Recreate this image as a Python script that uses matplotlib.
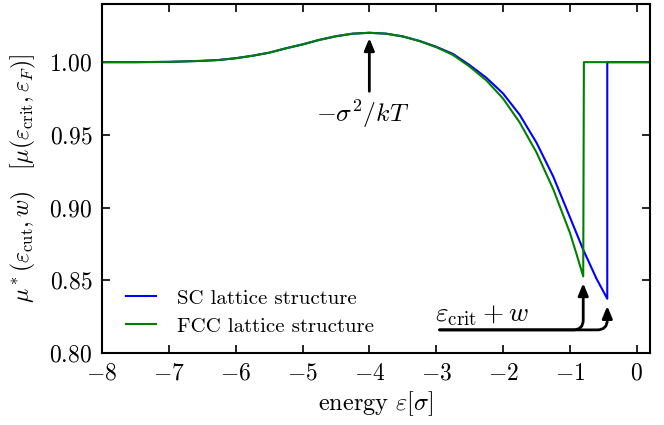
import matplotlib
matplotlib.use("Agg")
import matplotlib.pyplot as plt

plt.rcParams['font.family'] = 'serif'
plt.rcParams['font.serif'] = ['cmr10', 'DejaVu Serif']
plt.rcParams['mathtext.fontset'] = 'cm'
plt.rcParams['axes.unicode_minus'] = False
plt.rcParams['axes.formatter.use_mathtext'] = True

# ---- data ----
sc_x = [-8.0, -7.5, -7.0, -6.5, -6.25, -6.0, -5.75, -5.5, -5.25, -5.0, -4.75, -4.5,
        -4.25, -4.0, -3.75, -3.5, -3.25, -3.0, -2.75, -2.5, -2.25, -2.0, -1.75,
        -1.5, -1.25, -1.0, -0.8, -0.6, -0.44, -0.44, 0.2]
sc_y = [1.0, 1.0, 1.0002, 1.0009, 1.0015, 1.0027, 1.0044, 1.0065, 1.0095, 1.0122,
        1.0153, 1.0178, 1.0196, 1.0202, 1.0196, 1.0177, 1.0146, 1.0106, 1.0057,
        0.9980, 0.9893, 0.9785, 0.9638, 0.9447, 0.9215, 0.8935, 0.8710, 0.8510,
        0.8373, 1.0, 1.0]

fcc_x = [-8.0, -7.5, -7.0, -6.5, -6.25, -6.0, -5.75, -5.5, -5.25, -5.0, -4.75, -4.5,
         -4.25, -4.0, -3.75, -3.5, -3.25, -3.0, -2.75, -2.5, -2.25, -2.0, -1.75,
         -1.5, -1.25, -1.0, -0.9, -0.8, -0.79, 0.2]
fcc_y = [1.0, 1.0, 1.0002, 1.0009, 1.0015, 1.0027, 1.0044, 1.0065, 1.0095, 1.0122,
         1.0153, 1.0178, 1.0196, 1.0202, 1.0196, 1.0177, 1.0145, 1.0103, 1.0050,
         0.9970, 0.9875, 0.9750, 0.9585, 0.9380, 0.9128, 0.8828, 0.8680, 0.8527,
         1.0, 1.0]

series_labels = ['SC lattice structure', 'FCC lattice structure']
series_colors = ['#0000ff', '#008000']

x_ticks = [-8, -7, -6, -5, -4, -3, -2, -1, 0]
x_ticklabels = ['$-8$', '$-7$', '$-6$', '$-5$', '$-4$', '$-3$', '$-2$', '$-1$', '$0$']
y_ticks = [0.80, 0.85, 0.90, 0.95, 1.00]
y_ticklabels = ['$0.80$', '$0.85$', '$0.90$', '$0.95$', '$1.00$']

peak_tip = (-4.0, 1.0165)
peak_tail = (-4.0, 0.980)
peak_text_pos = (-4.1, 0.9645)
crit_start = (-2.95, 0.8159)
crit_tips = [(-0.44, 0.8323), (-0.80, 0.848)]
crit_text_pos = (-3.02, 0.8215)

# ---- figure ----
fig = plt.figure(figsize=(6.64, 4.25), dpi=100)
ax = fig.add_axes([0.1536, 0.1694, 0.979 - 0.1536, 0.9906 - 0.1694])

ax.plot(sc_x, sc_y, color=series_colors[0], lw=1.5, label=series_labels[0])
ax.plot(fcc_x, fcc_y, color=series_colors[1], lw=1.5, label=series_labels[1])

ax.set_xlim(-8, 0.2)
ax.set_ylim(0.80, 1.04)
ax.set_xticks(x_ticks)
ax.set_xticklabels(x_ticklabels)
ax.set_yticks(y_ticks)
ax.set_yticklabels(y_ticklabels)

for s in ax.spines.values():
    s.set_linewidth(1.5)
ax.tick_params(direction='in', length=6, width=1.2, top=True, right=True,
               labelsize=17)
ax.tick_params(axis='x', pad=7)
ax.tick_params(axis='y', pad=7)

ax.set_xlabel(r'energy $\varepsilon[\sigma]$', fontsize=17.5, labelpad=3)
ax.set_ylabel(r'$\mu^*(\varepsilon_{\rm cut},w) \quad [\mu(\varepsilon_{\rm crit},\varepsilon_F)]$',
              fontsize=17, labelpad=8)

arrow_kw = dict(arrowstyle='-|>,head_length=0.6,head_width=0.25', color='k',
                lw=2, shrinkA=0, shrinkB=0, mutation_scale=12)
ax.annotate('', xy=peak_tip, xytext=peak_tail, arrowprops=arrow_kw)
ax.text(peak_text_pos[0], peak_text_pos[1], r'$-\sigma^2/kT$', fontsize=18.5,
        ha='center', va='center')

for tip in crit_tips:
    kw = dict(arrow_kw)
    kw['connectionstyle'] = 'angle,angleA=0,angleB=90,rad=10'
    ax.annotate('', xy=tip, xytext=crit_start, arrowprops=kw)
ax.text(crit_text_pos[0], crit_text_pos[1], r'$\varepsilon_{\rm crit} + w$',
        fontsize=19.5, ha='left', va='baseline')

ax.legend(loc='lower left', frameon=False, fontsize=15, handlelength=1.45,
          handletextpad=1.0, labelspacing=0.45, bbox_to_anchor=(0.01, -0.004))

fig.savefig('out.png', dpi=100)
